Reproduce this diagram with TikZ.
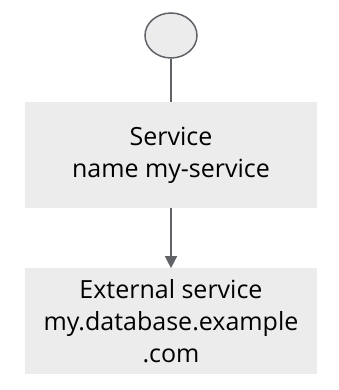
\documentclass[tikz,border=0pt]{standalone}
\usepackage{fontspec}
\setmainfont{Open Sans}
\usetikzlibrary{arrows.meta, shapes.geometric, positioning}
\definecolor{boxgray}{RGB}{236,236,236}
\definecolor{linegray}{RGB}{95,99,104}

\begin{document}
\begin{tikzpicture}[
  x=1pt, y=1pt,
  svcbox/.style={fill=boxgray, minimum width=292pt, minimum height=106pt, inner sep=0pt, align=center, font=\fontsize{25}{32}\selectfont},
  startnode/.style={ellipse, draw=linegray, line width=1.5pt, fill=boxgray, minimum width=52pt, minimum height=45pt, inner sep=0pt},
]
\useasboundingbox (0,0) rectangle (338,-390);
\node[startnode] (start) at (171,-35.5) {};
\node[svcbox, below=43pt of start] (svc) {Service\\name my-service};
\node[svcbox, below=60pt of svc] (ext) {External service\\my.database.example\\.com};

\draw[linegray, line width=1.5pt] (start) -- (svc);
\draw[-{Triangle[length=12pt, width=12pt]}, linegray, line width=1.5pt] (svc) -- (ext);
\end{tikzpicture}
\end{document}
